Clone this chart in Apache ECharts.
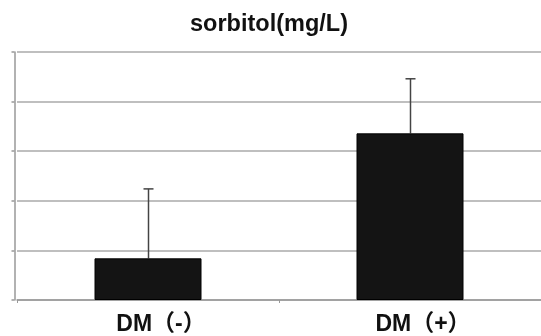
<!DOCTYPE html>
<html><head><meta charset="utf-8">
<script src="https://cdn.jsdelivr.net/npm/echarts@6/dist/echarts.min.js"></script>
<style>html,body{margin:0;padding:0;background:#fff}#c{width:541px;height:336px}</style>
</head><body><div id="c"></div>
<script>
const categories = ['DM（-）', 'DM（+）'];
const means = [0.84, 3.36];
const errUpper = [2.24, 4.46];
const yTicks = [0, 1, 2, 3, 4, 5];

const chart = echarts.init(document.getElementById('c'), null, {renderer: 'canvas'});
chart.setOption({
  animation: false,
  title: {
    text: 'sorbitol(mg/L)', left: 264, top: 8, textAlign: 'center',
    textStyle: {fontFamily: 'Liberation Sans, Arial, sans-serif', fontWeight: 'bold', fontSize: 23.5, color: '#111'}
  },
  grid: {left: 17, right: -9, top: 52, bottom: 34, containLabel: false},
  xAxis: {
    type: 'category', data: categories,
    axisLine: {show: true, lineStyle: {color: '#999', width: 1.5}},
    axisTick: {show: true, length: 3, lineStyle: {color: '#999'}},
    axisLabel: {
      margin: 13, padding: [0, 0, 0, 26],
      fontFamily: 'Liberation Sans, Noto Sans CJK SC, sans-serif', fontWeight: 'bold', fontSize: 23, color: '#111'
    }
  },
  yAxis: {
    type: 'value', min: yTicks[0], max: yTicks[yTicks.length - 1], interval: 1, offset: 2.5,
    axisLine: {show: true, lineStyle: {color: '#999', width: 1.5}},
    axisTick: {show: true, length: 3, lineStyle: {color: '#999', width: 1.5}},
    axisLabel: {show: false},
    splitLine: {show: true, lineStyle: {color: '#aaa', width: 1.5}}
  },
  series: [
    {
      type: 'bar', data: means, barWidth: 107, z: 3,
      itemStyle: {color: '#141414', borderColor: '#000', borderWidth: 1}
    },
    {
      type: 'custom', z: 2,
      data: means.map((m, i) => [i, m, errUpper[i]]),
      renderItem: function (params, api) {
        const p0 = api.coord([api.value(0), api.value(1)]);
        const p1 = api.coord([api.value(0), api.value(2)]);
        const x = Math.round(p0[0]) + 0.5;
        return {
          type: 'group',
          children: [
            {type: 'line', shape: {x1: x, y1: p0[1], x2: x, y2: p1[1]}, style: {stroke: '#444', lineWidth: 1.5}},
            {type: 'line', shape: {x1: x - 5, y1: p1[1], x2: x + 5, y2: p1[1]}, style: {stroke: '#444', lineWidth: 1.5}}
          ]
        };
      }
    }
  ]
});
</script></body></html>
